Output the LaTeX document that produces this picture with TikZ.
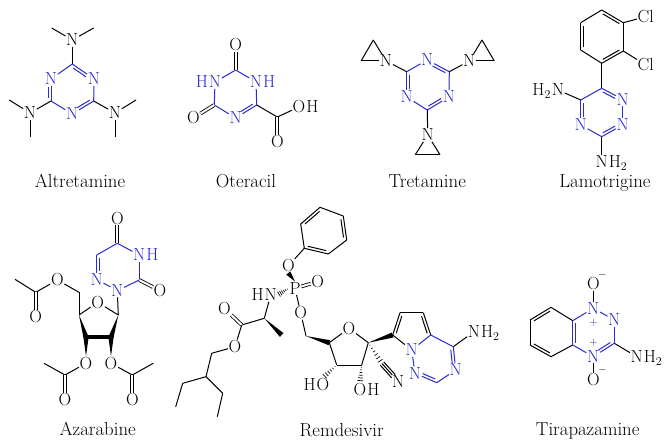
\documentclass[tikz,border=0pt]{standalone}
\usetikzlibrary{calc,positioning}
\definecolor{ringblue}{RGB}{42,42,205}
\tikzset{
  atom/.style={inner sep=0.6pt,font=\fontsize{17.5}{20}\selectfont,text=black},
  blueatom/.style={atom,text=ringblue},
  tail/.style={atom,inner xsep=0pt},
  bluetail/.style={blueatom,inner xsep=0pt},
  caption/.style={inner sep=0pt,anchor=base,font=\fontsize{18.8}{22}\selectfont},
  charge/.style={inner sep=0pt,font=\fontsize{11}{13}\selectfont},
  bond/.style={line width=1pt,black},
  bluebond/.style={line width=1pt,ringblue},
  twin/.style={double,double distance=2pt,line width=0.85pt,black}
}
% second line of a double bond: style, from, to, trim at from, trim at to, offset
\newcommand{\innerbond}[6][bond]{\draw[#1] ($(#2)!#4!(#3)!#6pt!90:(#3)$) -- ($(#3)!#5!(#2)!#6pt!-90:(#2)$);}
\newcommand{\wedgebond}[2]{\fill ($(#1)$) -- ($(#2)!2.6pt!90:(#1)$) -- ($(#2)!2.6pt!-90:(#1)$) -- cycle;}
\newcommand{\hashbond}[2]{\foreach \t in {0.12,0.27,...,0.95}{%
  \pgfmathsetmacro{\w}{\t*3.2}
  \draw[line width=0.7pt] ($(#1)!\t!(#2)!\w pt!90:(#2)$) -- ($(#1)!\t!(#2)!\w pt!-90:(#2)$);}}
\begin{document}
\begin{tikzpicture}[x=1pt,y=-1pt]
  \useasboundingbox (0,0) rectangle (669,443);

  % Altretamine
  \coordinate (altc1) at (72.3,64);
  \coordinate (altc3) at (51,101);
  \coordinate (altc5) at (93.7,101);
  \node[blueatom] (altn2) at (51,79) {N};
  \node[blueatom] (altn4) at (72.3,114) {N};
  \node[blueatom] (altn6) at (94,79) {N};
  \node[atom] (altna) at (72.3,40) {N};
  \node[atom] (altnb) at (30,113) {N};
  \node[atom] (altnc) at (115,113) {N};
  \coordinate (altm1) at (51.7,28);
  \coordinate (altm2) at (93.7,28);
  \coordinate (altm3) at (9.3,100);
  \coordinate (altm4) at (30,137);
  \coordinate (altm5) at (136,100);
  \coordinate (altm6) at (115,137);
  \foreach \a/\b in {altc1/altn2,altn2/altc3,altc3/altn4,altn4/altc5,altc5/altn6,altn6/altc1}
    \draw[bluebond] (\a) -- (\b);
  \foreach \a/\b in {altc1/altna,altc3/altnb,altc5/altnc,altna/altm1,altna/altm2,altnb/altm3,altnb/altm4,altnc/altm5,altnc/altm6}
    \draw[bond] (\a) -- (\b);
  \innerbond[bluebond]{altn6}{altc1}{0.3}{0.12}{2.8}
  \innerbond[bluebond]{altn2}{altc3}{0.38}{0.12}{-2.8}
  \innerbond[bluebond]{altn4}{altc5}{0.3}{0.12}{2.8}
  \node[caption] (altname) at (80,188) {Altretamine};

  % Oteracil
  \coordinate (otec2) at (235.7,70);
  \coordinate (otec4) at (214.3,105);
  \coordinate (otec6) at (256.7,105);
  \coordinate (otec7) at (277.3,117);
  \node[blueatom] (oten1) at (256,82) {N};
  \node[bluetail,anchor=base west] (oteh1) at (oten1.base east) {H};
  \node[blueatom] (oten3) at (215,82) {N};
  \node[bluetail,anchor=base east] (oteh3) at (oten3.base west) {H};
  \node[blueatom] (oten5) at (235.7,118) {N};
  \node[atom] (oteo2) at (235.7,45) {O};
  \node[atom] (oteo4) at (193.3,118) {O};
  \node[atom] (oteo7) at (277.3,142) {O};
  \node[atom] (oteo8) at (299,107) {O};
  \node[tail,anchor=base west] (oteh8) at (oteo8.base east) {H};
  \foreach \a/\b in {otec2/oten1,oten1/otec6,otec6/oten5,oten5/otec4,otec4/oten3,oten3/otec2}
    \draw[bluebond] (\a) -- (\b);
  \innerbond[bluebond]{oten5}{otec6}{0.3}{0.12}{2.8}
  \draw[bond] (otec6) -- (otec7);
  \draw[bond] (otec7) -- (oteo8);
  \draw[twin] (otec2) -- (oteo2);
  \draw[twin] (otec4) -- (oteo4);
  \draw[twin] (otec7) -- (oteo7);
  \node[caption] (otename) at (246,187.5) {Oteracil};

  % Tretamine
  \coordinate (trec2) at (449.3,71.7);
  \coordinate (trec4) at (427.3,110);
  \coordinate (trec6) at (406.7,71.7);
  \node[blueatom] (tren1) at (427.3,60) {N};
  \node[blueatom] (tren3) at (449,97) {N};
  \node[blueatom] (tren5) at (406.7,97) {N};
  \node[atom] (trena) at (386,61) {N};
  \node[atom] (trenb) at (469.3,61) {N};
  \node[atom] (trenc) at (427.7,135) {N};
  \coordinate (trea1) at (373.3,40);
  \coordinate (trea2) at (361,61);
  \coordinate (treb1) at (482,40);
  \coordinate (treb2) at (494.3,61);
  \coordinate (trec1) at (415.3,154.7);
  \coordinate (trec3) at (440,154.7);
  \foreach \a/\b in {tren1/trec2,trec2/tren3,tren3/trec4,trec4/tren5,tren5/trec6,trec6/tren1}
    \draw[bluebond] (\a) -- (\b);
  \foreach \a/\b in {trec6/trena,trec2/trenb,trec4/trenc,trena/trea1,trena/trea2,trenb/treb1,trenb/treb2,trenc/trec1,trenc/trec3}
    \draw[bond] (\a) -- (\b);
  \draw[bond] (trea1) -- (trea2);
  \draw[bond] (treb1) -- (treb2);
  \draw[bond] (trec1) -- (trec3);
  \innerbond[bluebond]{trec6}{tren5}{0.12}{0.3}{2.8}
  \innerbond[bluebond]{trec4}{tren3}{0.12}{0.3}{2.8}
  \innerbond[bluebond]{tren1}{trec2}{0.3}{0.12}{-2.8}
  \node[caption] (trename) at (427.3,187.5) {Tretamine};

  % Lamotrigine
  \coordinate (lamp1) at (601.7,10);
  \coordinate (lamp2) at (623.3,22.7);
  \coordinate (lamp3) at (623.3,51);
  \coordinate (lamp4) at (601.7,63.3);
  \coordinate (lamp5) at (580.7,50);
  \coordinate (lamp6) at (580.7,22.7);
  \node[atom] (lamcl1) at (645.7,16.7) {Cl};
  \node[atom] (lamcl2) at (645.7,65) {Cl};
  \coordinate (lamc6) at (601.7,88.3);
  \coordinate (lamc3) at (601.7,136.7);
  \coordinate (lamc5) at (580.7,100);
  \node[blueatom] (lamn1) at (622.7,99.3) {N};
  \node[blueatom] (lamn2) at (622.7,125) {N};
  \node[blueatom] (lamn4) at (580.7,125) {N};
  \node[atom] (lamna) at (558,90) {N};
  \node[tail,anchor=base east] (lamha) at (lamna.base west) {H$_2$};
  \node[atom] (lamnb) at (601.7,161.7) {N};
  \node[tail,anchor=base west] (lamhb) at (lamnb.base east) {H$_2$};
  \foreach \a/\b in {lamp1/lamp2,lamp2/lamp3,lamp3/lamp4,lamp4/lamp5,lamp5/lamp6,lamp6/lamp1,lamp2/lamcl1,lamp3/lamcl2,lamp4/lamc6,lamc5/lamna,lamc3/lamnb}
    \draw[bond] (\a) -- (\b);
  \foreach \a/\b in {lamc6/lamn1,lamn1/lamn2,lamn2/lamc3,lamc3/lamn4,lamn4/lamc5,lamc5/lamc6}
    \draw[bluebond] (\a) -- (\b);
  \innerbond{lamp6}{lamp5}{0.12}{0.12}{2.8}
  \innerbond{lamp4}{lamp3}{0.12}{0.12}{2.8}
  \innerbond{lamp2}{lamp1}{0.12}{0.12}{2.8}
  \innerbond[bluebond]{lamc5}{lamn4}{0.12}{0.3}{2.8}
  \innerbond[bluebond]{lamc3}{lamn2}{0.12}{0.3}{2.8}
  \innerbond[bluebond]{lamn1}{lamc6}{0.3}{0.12}{2.8}
  \node[caption] (lamname) at (605,187.5) {Lamotrigine};

  % Azarabine
  \node[atom] (azao5) at (117.3,218.3) {O};
  \coordinate (azac5) at (117.3,243.3);
  \node[blueatom] (azan4) at (139.3,255) {N};
  \node[bluetail,anchor=base west] (azah4) at (azan4.base east) {H};
  \coordinate (azac3) at (139.3,280);
  \node[atom] (azao3) at (160,290.7) {O};
  \node[blueatom] (azan1) at (117.3,290.7) {N};
  \node[blueatom] (azan2) at (96.7,279.3) {N};
  \coordinate (azac6) at (96.7,255);
  \coordinate (azas1) at (118.3,315);
  \node[atom] (azaso) at (97.7,302.3) {O};
  \coordinate (azas4) at (79,315);
  \coordinate (azas3) at (86,337.3);
  \coordinate (azas2) at (111,337.3);
  \coordinate (azach) at (79,292.3);
  \node[atom] (azaoa) at (57.3,280) {O};
  \coordinate (azaca) at (35.7,292.3);
  \coordinate (azama) at (15,279.3);
  \node[atom] (azaxa) at (35.7,316.7) {O};
  \node[atom] (azaob) at (86,363.3) {O};
  \coordinate (azacb) at (65,375);
  \coordinate (azamb) at (44,363.3);
  \node[atom] (azaxb) at (65,400) {O};
  \node[atom] (azaoc) at (111,363.3) {O};
  \coordinate (azacc) at (132.3,375);
  \coordinate (azamc) at (153.3,363.3);
  \node[atom] (azaxc) at (132.3,400) {O};
  \foreach \a/\b in {azac5/azan4,azan4/azac3,azac3/azan1,azan1/azan2,azan2/azac6,azac6/azac5}
    \draw[bluebond] (\a) -- (\b);
  \innerbond[bluebond]{azac6}{azan2}{0.12}{0.35}{2.8}
  \foreach \a/\b in {azan1/azas1,azas1/azaso,azaso/azas4,azas4/azach,azach/azaoa,azaoa/azaca,azaca/azama,azaob/azacb,azacb/azamb,azaoc/azacc,azacc/azamc}
    \draw[bond] (\a) -- (\b);
  \draw[twin] (azac5) -- (azao5);
  \draw[twin] (azac3) -- (azao3);
  \draw[twin] (azaca) -- (azaxa);
  \draw[twin] (azacb) -- (azaxb);
  \draw[twin] (azacc) -- (azaxc);
  \wedgebond{azas1}{azas2}
  \wedgebond{azas4}{azas3}
  \draw[line width=4pt] (azas3) -- (azas2);
  \wedgebond{azaob.north}{azas3}
  \wedgebond{azaoc.north}{azas2}
  \node[caption] (azaname) at (97.7,435) {Azarabine};

  % Remdesivir
  \coordinate (remp1) at (304.3,248.3);
  \coordinate (remp2) at (300.7,224);
  \coordinate (remp3) at (320,207.3);
  \coordinate (remp4) at (343.3,216);
  \coordinate (remp5) at (346.7,240);
  \coordinate (remp6) at (328.3,254);
  \node[atom] (remoa) at (288.3,266) {O};
  \node[atom] (remph) at (295,288.3) {P};
  \node[atom] (remob) at (317.7,281.7) {O};
  \node[atom] (remn) at (270.7,295) {N};
  \node[tail,anchor=base east] (remh) at (remn.base west) {H};
  \node[atom] (remoc) at (300.7,312.7) {O};
  \coordinate (remch) at (306,336);
  \coordinate (rems4) at (329.3,342.7);
  \node[atom] (remso) at (349,328.3) {O};
  \coordinate (rems1) at (368.3,342.7);
  \coordinate (rems2) at (361.7,365);
  \coordinate (rems3) at (336.7,365);
  \node[atom] (remo3) at (323,385) {O};
  \node[tail,anchor=base east] (remh3) at (remo3.base west) {H};
  \node[atom] (remo2) at (360,390) {O};
  \node[tail,anchor=base west] (remh2) at (remo2.base east) {H};
  \coordinate (remcn) at (382,363.5);
  \node[atom] (remnn) at (398.3,381.7) {N};
  \coordinate (remc7) at (392.7,335);
  \coordinate (remc6) at (400,312.7);
  \coordinate (remc5) at (423.3,312.7);
  \coordinate (remc4) at (430.7,335);
  \node[blueatom] (remn1) at (411.7,350) {N};
  \node[blueatom] (remn2) at (415,373.3) {N};
  \coordinate (remc3) at (436.7,382.7);
  \node[blueatom] (remn3) at (455.7,370) {N};
  \coordinate (remc2) at (453.3,346.7);
  \node[atom] (remna) at (474,331.7) {N};
  \node[tail,anchor=base west] (remha) at (remna.base east) {H$_2$};
  \coordinate (remal) at (264.3,318.3);
  \coordinate (remme) at (281.7,335);
  \coordinate (remco) at (241.7,325);
  \node[atom] (remox) at (224.3,308.3) {O};
  \node[atom] (remoe) at (235,346.7) {O};
  \coordinate (reme1) at (211.7,353.3);
  \coordinate (reme2) at (206,376.7);
  \coordinate (reme3) at (182.7,383.3);
  \coordinate (reme4) at (175.7,406.7);
  \coordinate (reme5) at (222.7,393.3);
  \coordinate (reme6) at (217.3,416.7);
  \foreach \a/\b in {remp1/remp2,remp2/remp3,remp3/remp4,remp4/remp5,remp5/remp6,remp6/remp1,remp1/remoa,remph/remoc,remoc/remch,rems4/remso,remso/rems1,rems1/rems2,rems2/rems3,rems3/rems4,remc7/remc6,remc6/remc5,remc5/remc4,remc7/remn1,remc2/remna,remal/remn,remal/remco,remco/remoe,remoe/reme1,reme1/reme2,reme2/reme3,reme3/reme4,reme2/reme5,reme5/reme6}
    \draw[bond] (\a) -- (\b);
  \foreach \a/\b in {remc4/remn1,remn1/remn2,remn2/remc3,remc3/remn3,remn3/remc2,remc2/remc4}
    \draw[bluebond] (\a) -- (\b);
  \innerbond{remp3}{remp2}{0.12}{0.12}{2.8}
  \innerbond{remp5}{remp4}{0.12}{0.12}{2.8}
  \innerbond{remp1}{remp6}{0.12}{0.12}{2.8}
  \innerbond{remc4}{remc5}{0.12}{0.12}{2.8}
  \innerbond{remc6}{remc7}{0.12}{0.12}{2.8}
  \innerbond[bluebond]{remn2}{remc3}{0.3}{0.12}{2.8}
  \innerbond[bluebond]{remn3}{remc2}{0.3}{0.12}{2.8}
  \draw[twin] (remph) -- (remob);
  \draw[twin] (remco) -- (remox);
  \draw[bond] (remcn) -- (remnn);
  \innerbond{remcn}{remnn}{0}{0.3}{2.4}
  \innerbond{remcn}{remnn}{0}{0.3}{-2.4}
  \wedgebond{remph.north}{remoa.south}
  \hashbond{remph.west}{remn.east}
  \wedgebond{remch}{rems4}
  \wedgebond{rems1}{remc7}
  \wedgebond{remal}{remme}
  \hashbond{rems3}{remo3.north}
  \hashbond{rems2}{remo2.north}
  \hashbond{rems1}{remcn}
  \node[caption] (remname) at (341.7,436) {Remdesivir};

  % Tirapazamine
  \coordinate (tirb1) at (572.7,320.7);
  \coordinate (tirb2) at (551,307.3);
  \coordinate (tirb3) at (530,320);
  \coordinate (tirb4) at (530,345);
  \coordinate (tirb5) at (551,356.7);
  \coordinate (tirb6) at (572.7,345);
  \node[blueatom] (tirn1) at (593.3,308.3) {N};
  \node[blueatom] (tirn2) at (614.3,320) {N};
  \coordinate (tirc3) at (614.3,343.3);
  \node[blueatom] (tirn4) at (593.3,356.7) {N};
  \node[atom] (tiro1) at (593.3,284) {O};
  \node[atom] (tiro4) at (593.3,380) {O};
  \node[atom] (tirna) at (636.7,356.7) {N};
  \node[tail,anchor=base west] (tirha) at (tirna.base east) {H$_2$};
  \node[charge,text=ringblue] (tirpa) at (593.3,322.5) {$+$};
  \node[charge,text=ringblue] (tirpb) at (593.3,342.3) {$+$};
  \node[charge] (tirma) at (602.5,275) {$-$};
  \node[charge] (tirmb) at (602.5,370) {$-$};
  \foreach \a/\b in {tirb1/tirb2,tirb2/tirb3,tirb3/tirb4,tirb4/tirb5,tirb5/tirb6,tirn1/tiro1,tirn4/tiro4,tirc3/tirna}
    \draw[bond] (\a) -- (\b);
  \foreach \a/\b in {tirb1/tirb6,tirb1/tirn1,tirn1/tirn2,tirn2/tirc3,tirc3/tirn4,tirn4/tirb6}
    \draw[bluebond] (\a) -- (\b);
  \innerbond{tirb2}{tirb3}{0.12}{0.12}{2.8}
  \innerbond{tirb4}{tirb5}{0.12}{0.12}{2.8}
  \innerbond[bluebond]{tirb6}{tirb1}{0.1}{0.1}{-2.8}
  \innerbond[bluebond]{tirn4}{tirc3}{0.3}{0.12}{2.8}
  \node[caption] (tirname) at (587.7,435) {Tirapazamine};
\end{tikzpicture}
\end{document}
